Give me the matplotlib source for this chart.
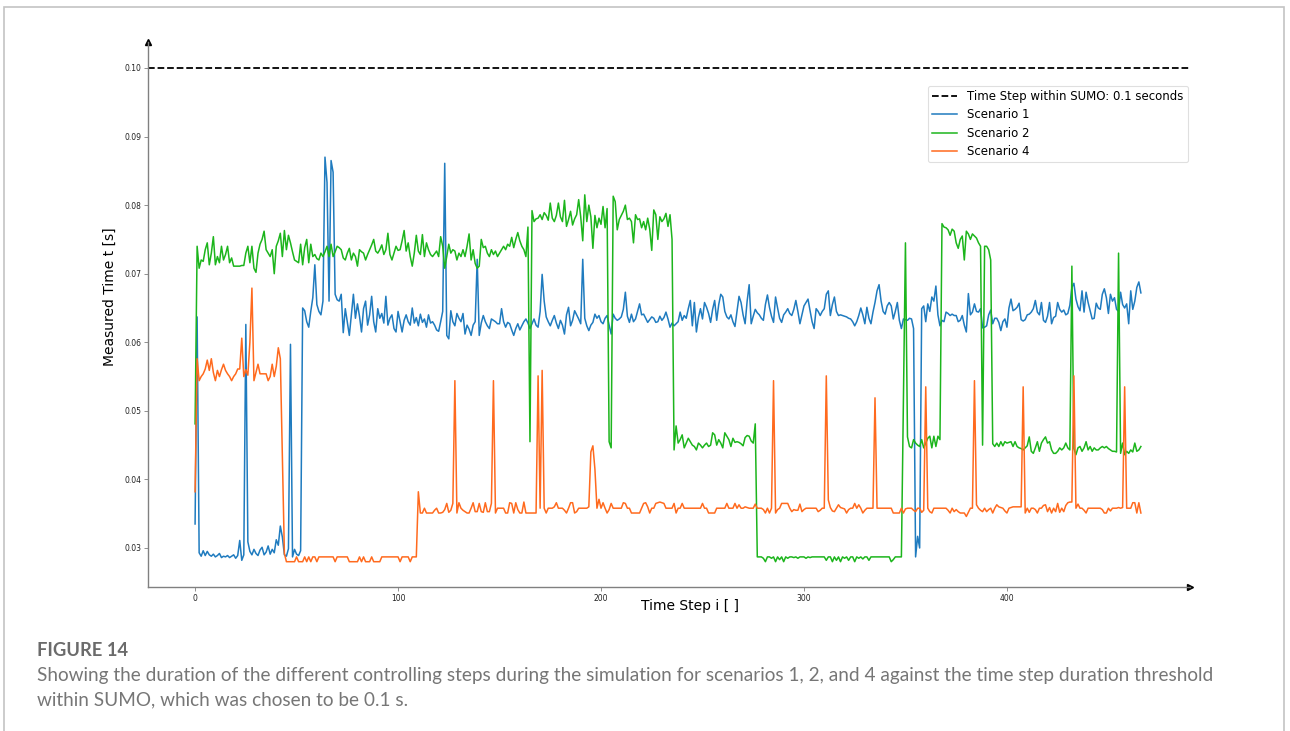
import numpy as np
import matplotlib
matplotlib.use("Agg")
import matplotlib.pyplot as plt
from matplotlib.patches import Rectangle

# measured controlling-step durations in milliseconds, one value per time step
scenario1_ms = [
    33.5, 63.7, 29.3, 28.8, 29.6, 28.9, 29.5, 29.0, 28.8, 29.1,
    28.7, 28.9, 29.2, 28.6, 28.8, 28.7, 28.9, 28.6, 28.8, 29.0,
    28.5, 28.9, 31.1, 28.2, 29.0, 62.6, 30.9, 29.5, 29.0, 29.8,
    29.2, 28.9, 29.7, 30.1, 29.0, 29.4, 30.3, 29.1, 29.8, 29.3,
    31.2, 30.4, 33.2, 31.6, 29.0, 28.8, 29.9, 59.7, 28.7, 29.8,
    29.1, 28.9, 29.6, 65.0, 64.6, 63.0, 62.2, 64.5, 66.5, 71.3,
    65.5, 64.5, 64.0, 66.0, 87.0, 83.3, 66.0, 86.5, 84.8, 67.0,
    66.2, 66.0, 67.0, 61.4, 64.9, 63.0, 61.0, 64.0, 67.0, 63.5,
    65.6, 63.8, 61.5, 64.9, 66.0, 62.5, 64.0, 66.7, 63.0, 61.5,
    64.9, 63.5, 64.2, 62.8, 66.7, 62.5, 63.5, 64.0, 62.0, 61.5,
    64.5, 63.0, 61.5, 63.2, 64.0, 63.0, 62.5, 65.0, 62.8, 63.6,
    62.4, 64.1, 62.9, 63.4, 62.2, 64.0, 62.8, 63.0, 62.5, 61.8,
    61.6, 63.0, 64.5, 86.1, 61.0, 60.5, 64.6, 63.0, 62.4, 64.2,
    63.5, 63.0, 64.2, 61.2, 62.5, 61.9, 61.0, 62.5, 63.0, 72.1,
    61.0, 62.8, 63.9, 63.0, 62.4, 62.0, 63.4, 63.2, 63.0, 62.7,
    62.7, 64.9, 63.0, 62.2, 62.9, 62.7, 61.8, 61.0, 62.0, 62.7,
    61.8, 62.4, 63.0, 63.4, 62.8, 62.0, 62.7, 63.4, 62.5, 62.2,
    64.5, 69.9, 66.0, 63.7, 63.0, 62.4, 63.2, 63.9, 62.8, 62.0,
    63.2, 62.5, 61.2, 64.0, 65.1, 62.4, 63.2, 64.6, 64.0, 63.4,
    62.7, 72.1, 63.5, 62.4, 61.7, 62.5, 62.9, 64.1, 63.5, 63.9,
    63.0, 62.7, 63.5, 63.9, 62.5, 61.2, 64.1, 63.5, 63.2, 63.4,
    63.7, 64.8, 67.3, 63.8, 62.9, 64.1, 63.0, 63.4, 64.5, 65.6,
    64.0, 64.1, 63.5, 62.9, 63.3, 63.7, 63.5, 62.9, 63.0, 63.8,
    63.2, 63.6, 64.4, 63.4, 62.2, 62.8, 62.4, 62.7, 63.0, 64.4,
    63.2, 63.9, 63.5, 64.9, 66.1, 62.4, 65.8, 61.5, 63.6, 64.9,
    63.4, 65.8, 65.1, 64.2, 62.9, 64.8, 66.1, 63.2, 65.5, 67.0,
    66.6, 64.5, 63.7, 63.4, 64.0, 63.0, 62.3, 64.5, 66.7, 65.8,
    64.0, 62.7, 66.0, 68.4, 62.7, 63.8, 64.8, 64.3, 64.0, 63.5,
    63.2, 65.5, 66.9, 65.1, 63.8, 62.9, 66.6, 65.0, 63.5, 62.9,
    64.0, 64.4, 64.9, 64.2, 63.9, 64.8, 66.1, 64.5, 62.7, 64.0,
    65.3, 65.8, 66.3, 64.6, 63.0, 62.0, 64.9, 64.5, 63.9, 64.5,
    64.9, 67.0, 67.5, 63.9, 65.5, 66.6, 64.5, 63.9, 64.0, 63.9,
    63.8, 63.7, 63.5, 63.4, 63.0, 62.4, 63.0, 63.9, 65.0, 64.0,
    62.7, 65.1, 63.5, 62.7, 64.4, 65.8, 67.5, 68.4, 66.0, 64.5,
    64.1, 65.3, 65.8, 65.3, 63.4, 64.5, 65.8, 63.2, 62.0, 63.4,
    63.3, 63.2, 63.5, 63.4, 62.0, 28.7, 31.7, 30.0, 64.9, 65.3,
    63.0, 65.6, 64.5, 66.6, 66.0, 68.2, 64.0, 62.4, 63.2, 63.0,
    64.4, 64.2, 63.9, 64.1, 63.9, 63.9, 63.0, 63.2, 63.9, 62.5,
    61.5, 67.1, 64.0, 64.4, 65.6, 64.5, 64.4, 64.9, 62.1, 62.2,
    62.4, 64.0, 64.7, 62.7, 63.5, 63.5, 62.9, 61.7, 63.0, 63.4,
    62.2, 65.0, 66.3, 64.6, 64.8, 65.1, 65.7, 63.3, 63.1, 63.3,
    64.0, 64.1, 64.4, 64.9, 66.1, 64.4, 64.0, 65.8, 63.2, 62.9,
    63.8, 65.8, 62.7, 63.6, 63.8, 65.8, 64.8, 64.4, 64.7, 64.0,
    64.2, 65.4, 68.0, 68.6, 66.3, 65.2, 64.6, 67.5, 64.4, 67.3,
    65.8, 64.6, 63.4, 63.5, 65.7, 65.0, 64.8, 67.0, 67.8, 66.5,
    64.2, 67.0, 66.0, 66.5, 64.8, 64.5, 67.3, 65.5, 65.0, 65.6,
    62.7, 67.5, 64.8, 66.0, 68.0, 68.8, 67.2,
]

scenario2_ms = [
    48.1, 74.0, 70.8, 72.0, 71.8, 73.5, 74.5, 71.3, 73.0, 75.4,
    71.3, 72.5, 71.6, 74.0, 72.0, 72.8, 74.0, 71.6, 72.3, 71.1,
    71.1, 71.1, 71.1, 71.2, 71.2, 73.0, 74.0, 71.6, 74.0, 70.8,
    70.2, 73.0, 74.3, 75.0, 76.2, 73.5, 73.0, 72.5, 73.5, 70.0,
    74.0, 74.8, 75.9, 72.5, 76.3, 73.5, 75.6, 74.5, 73.2, 72.0,
    71.8, 71.6, 74.3, 71.3, 73.8, 75.0, 71.6, 74.3, 72.5, 72.8,
    72.2, 72.0, 73.0, 72.5, 73.2, 74.0, 72.5, 74.3, 72.5, 73.2,
    74.0, 73.8, 73.5, 72.3, 72.0, 73.0, 73.7, 72.0, 73.0, 72.5,
    71.1, 73.5, 73.2, 73.0, 72.0, 72.8, 73.5, 74.2, 75.0, 73.3,
    73.0, 73.5, 74.2, 72.8, 73.5, 75.9, 72.8, 72.0, 73.0, 74.0,
    73.4, 73.5, 74.8, 76.3, 73.3, 74.5, 72.5, 71.1, 73.0, 75.6,
    73.3, 72.8, 75.7, 72.5, 74.5, 73.5, 72.8, 72.5, 72.9, 73.3,
    72.5, 75.4, 74.0, 70.8, 72.5, 74.3, 73.0, 73.5, 73.3, 72.0,
    73.0, 72.5, 73.5, 72.5, 74.0, 75.8, 72.0, 73.5, 71.5, 70.8,
    71.1, 75.0, 73.8, 74.0, 73.0, 72.5, 73.5, 72.8, 73.3, 72.5,
    73.0, 73.5, 74.0, 73.5, 74.3, 74.0, 75.3, 73.8, 75.0, 76.0,
    74.8, 74.0, 73.5, 72.5, 76.8, 45.5, 79.2, 77.6, 78.0, 78.1,
    78.6, 77.9, 78.9, 78.5, 77.8, 80.3, 78.1, 77.6, 78.5, 80.3,
    78.3, 77.6, 80.7, 76.9, 77.9, 79.1, 77.1, 78.0, 78.6, 80.8,
    78.3, 74.8, 81.5, 77.6, 80.0, 78.3, 73.7, 78.5, 76.7, 78.1,
    77.2, 79.8, 76.7, 79.5, 45.5, 44.6, 81.3, 80.5, 76.4, 77.9,
    78.5, 79.1, 80.0, 77.9, 78.1, 77.6, 74.5, 78.6, 77.9, 78.0,
    76.7, 77.6, 76.4, 78.1, 76.5, 73.4, 79.3, 78.6, 75.0, 78.3,
    77.6, 78.0, 78.8, 76.9, 78.6, 75.0, 44.3, 47.8, 45.3, 45.8,
    46.5, 44.6, 45.3, 46.0, 45.5, 45.0, 44.8, 44.3, 45.3, 45.0,
    44.6, 45.0, 45.3, 44.8, 45.0, 46.8, 46.5, 45.0, 45.8, 45.3,
    44.6, 46.8, 46.3, 45.8, 44.8, 46.0, 45.4, 45.5, 45.4, 45.2,
    44.9, 46.1, 46.4, 46.3, 45.6, 45.3, 48.1, 28.7,
    28.7, 28.7, 28.5, 28.0, 28.7, 28.7, 28.5, 28.7, 28.0, 28.7,
    28.3, 28.7, 28.0, 28.7, 28.5, 28.7, 28.7, 28.6, 28.7, 28.5,
    28.7, 28.7, 28.7, 28.5, 28.7, 28.6, 28.7, 28.7, 28.7, 28.7,
    28.7, 28.7, 28.7, 28.2, 28.7, 28.7, 28.0, 28.7, 28.2, 28.7,
    28.0, 28.7, 28.5, 28.7, 28.2, 28.7, 28.7, 28.0, 28.7, 28.5,
    28.7, 28.4, 28.7, 28.7, 28.2, 28.7, 28.7, 28.7, 28.7, 28.7,
    28.7, 28.7, 28.7, 28.7, 28.7, 28.0, 28.3, 28.7, 28.7, 28.7,
    28.7,
    52.0, 74.5, 46.2, 44.8, 44.6, 45.8, 45.3, 45.0, 44.8, 45.8, 44.6,
    45.3, 46.0, 46.3, 44.6, 46.3, 44.8, 46.3, 45.8, 77.3, 76.8,
    76.7, 76.4, 75.6, 76.5, 76.2, 74.5, 73.7, 75.0, 75.5, 72.0,
    76.2, 75.8, 75.0, 75.8, 75.5, 75.2, 74.5, 74.0, 45.0, 74.0,
    74.0, 73.5, 72.0, 45.2, 44.8, 45.3, 44.8, 45.5, 44.9, 45.5,
    45.3, 45.4, 45.5, 44.8, 45.5, 44.8, 44.6, 44.5, 44.3, 44.6,
    44.9, 46.2, 44.1, 43.8, 44.6, 45.5, 44.1, 45.3, 45.8, 46.2,
    45.3, 45.5, 44.3, 43.8, 43.8, 44.1, 44.6, 44.3, 44.6, 45.3,
    44.6, 44.3, 71.1, 44.5, 43.6, 44.6, 44.8, 44.1, 44.6, 45.5,
    44.3, 44.8, 44.1, 44.6, 44.3, 44.3, 44.6, 44.8, 44.6, 44.8,
    44.5, 44.3, 44.1, 44.1, 44.0, 73.0, 43.8, 45.3, 43.6, 44.1,
    43.8, 44.3, 44.0, 45.3, 44.1, 44.3, 44.8,
]

scenario4_ms = [
    38.2, 57.6, 54.4, 55.0, 55.4, 56.1, 57.4, 55.9, 57.6, 55.6,
    54.4, 55.9, 55.0, 56.0, 56.8, 55.9, 55.4, 55.0, 54.4, 55.0,
    55.4, 56.1, 56.1, 60.6, 55.0, 56.0, 55.2, 60.0, 67.9, 54.4,
    55.6, 56.8, 55.4, 55.4, 55.4, 55.4, 54.4, 55.0, 56.8, 55.0,
    56.5, 59.2, 57.6, 43.3, 29.2, 28.0,
    28.0, 28.0, 28.0, 28.0, 28.7, 28.0, 28.0, 28.0, 28.7, 28.0,
    28.7, 28.0, 28.7, 28.7, 28.0, 28.7, 28.7, 28.7, 28.7, 28.7,
    28.7, 28.7, 28.7, 28.0, 28.7, 28.7, 28.7, 28.7, 28.7, 28.7,
    28.0, 28.0, 28.0, 28.0, 28.0, 28.7, 28.0, 28.7, 28.0, 28.0,
    28.0, 28.7, 28.0, 28.0, 28.0, 28.0, 28.7, 28.7, 28.7, 28.7,
    28.7, 28.7, 28.7, 28.7, 28.7, 28.0, 28.7, 28.7, 28.7, 28.7,
    28.0, 28.7, 28.7, 28.7,
    38.2, 35.1, 35.1, 35.8, 35.1, 35.1, 35.1, 35.1, 35.5, 35.8, 35.1,
    35.1, 35.2, 35.6, 36.5, 35.2, 35.5, 36.5, 54.4, 35.1, 36.6,
    35.8, 35.5, 35.3, 35.1, 35.1, 35.8, 36.6, 35.3, 35.3, 36.5,
    35.3, 35.2, 36.6, 35.3, 35.3, 36.5, 54.4, 35.1, 35.8, 35.8,
    35.8, 35.8, 35.1, 35.1, 36.6, 36.5, 35.1, 36.6, 35.6, 35.1,
    35.1, 36.7, 35.1, 35.1, 35.1, 35.1, 35.1, 35.1, 55.1, 35.8,
    55.9, 35.8, 35.1, 35.8, 35.8, 35.8, 36.0, 36.6, 35.8, 35.8,
    35.8, 35.5, 35.1, 35.8, 36.6, 36.6, 35.1, 35.3, 35.8, 35.8,
    35.8, 35.8, 35.8, 36.0, 44.0, 44.9, 41.5, 35.8, 37.1, 35.8,
    36.6, 35.8, 35.1, 35.6, 36.5, 35.8, 35.8, 35.8, 35.8, 35.8,
    36.6, 36.5, 35.8, 35.8, 35.1, 35.1, 35.1, 35.1, 35.1, 35.8,
    36.5, 36.6, 36.0, 35.1, 35.8, 35.8, 36.5, 36.6, 36.7, 36.6,
    36.5, 35.8, 35.8, 35.8, 35.8, 36.5, 35.1, 35.8, 35.8, 36.5,
    35.8, 35.8, 35.8, 35.8, 35.8, 35.8, 35.8, 35.8, 35.8, 36.5,
    35.8, 35.8, 35.1, 35.1, 35.1, 35.1, 35.8, 35.8, 35.8, 35.8,
    35.8, 36.5, 35.8,
    35.8, 35.8, 36.5, 35.8, 36.3, 35.8, 35.8, 36.0, 35.9, 35.8,
    35.8, 35.8, 36.4, 35.8, 35.8, 35.8, 35.6, 35.1, 35.8, 35.1,
    35.8, 54.4, 35.1, 35.6, 35.8, 36.5, 36.5, 36.5, 36.5, 35.8,
    35.3, 35.6, 35.5, 35.5, 36.4, 35.3, 35.6, 35.8, 35.8, 35.8,
    35.8, 35.8, 35.8, 35.3, 35.5, 35.8, 35.8, 55.1, 37.0, 35.9,
    35.4, 35.3, 35.8, 36.3, 35.9, 35.8, 35.7, 35.1, 35.6, 35.8,
    35.8, 36.5, 35.8, 36.3, 35.8, 35.1, 35.5, 35.8, 35.8, 35.8,
    35.8, 51.9, 35.8, 35.8, 35.8, 35.8, 35.8, 35.8, 35.8, 35.8,
    35.1, 35.1, 35.1, 35.1, 35.8, 35.1, 35.7, 35.8, 35.8, 35.8,
    35.5, 35.3, 35.8, 35.8, 35.2, 35.5, 53.5, 35.8, 35.3, 35.1,
    35.8, 35.8, 35.8, 35.8, 35.8, 35.8, 35.8, 35.5, 35.1, 35.8,
    35.3, 35.6, 35.3, 35.1, 35.1, 35.1, 34.6, 35.2, 35.8, 35.8,
    54.4, 36.3, 35.8, 35.5, 35.3, 35.8, 35.3, 35.6, 35.8, 35.1,
    35.8, 36.3, 36.0, 35.9, 35.8, 35.4, 35.1, 35.8, 35.9, 36.0,
    36.0, 36.0, 36.0, 36.0, 53.5, 35.1, 35.8, 35.2, 35.8, 35.8,
    35.6, 35.1, 35.8, 35.8, 36.2, 36.3, 35.3, 35.9, 35.1, 35.8,
    35.3, 36.5, 35.2, 35.8, 35.3, 36.2, 36.6, 36.7, 36.7, 55.1,
    35.8, 36.4, 35.8, 35.8, 35.5, 35.1, 35.8, 35.8, 35.8, 35.8,
    35.8, 35.8, 35.8, 35.6, 35.1, 35.1, 35.8, 35.4, 35.8, 35.8,
    35.8, 35.9, 35.8, 35.9, 53.5, 35.8, 35.8, 35.8, 36.6, 36.6,
    35.1, 36.6, 35.1,
]

threshold = 0.1
series_labels = ["Scenario 1", "Scenario 2", "Scenario 4"]
series_colors = ["#1f7bbf", "#1cb51c", "#ff6a1e"]
y_ticks = [0.03, 0.04, 0.05, 0.06, 0.07, 0.08, 0.09, 0.10]
x_ticks = [0, 100, 200, 300, 400]

caption_head = "FIGURE 14"
caption_lines = [
    "Showing the duration of the different controlling steps during the simulation for scenarios 1, 2, and 4 against the time step duration threshold",
    "within SUMO, which was chosen to be 0.1 s.",
]

W, H = 1290, 731
fig = plt.figure(figsize=(W / 100, H / 100), dpi=100)
fig.patch.set_facecolor("white")

# light frame round the whole figure box
fig.patches.append(Rectangle((4 / W, -0.05), 1280 / W, 1 - 7 / H + 0.05,
                             transform=fig.transFigure, fill=False,
                             edgecolor="#c4c4c4", lw=1.2))

ax = fig.add_axes([148 / W, (H - 587) / H, (1190 - 148) / W, (587 - 42) / H])
ax.set_xlim(-23.2, 490.2)
ax.set_ylim(0.02431, 0.10379)

ax.axhline(threshold, color="black", ls="--", lw=1.3,
           label="Time Step within SUMO: 0.1 seconds")
for vals, lab, col in zip([scenario1_ms, scenario2_ms, scenario4_ms],
                          series_labels, series_colors):
    y = np.array(vals) / 1000.0
    ax.plot(np.arange(len(y)), y, color=col, lw=1.1, label=lab)

# axis look: only left and bottom, with arrow heads
for side in ["top", "right"]:
    ax.spines[side].set_visible(False)
for side in ["left", "bottom"]:
    ax.spines[side].set_color("#808080")
    ax.spines[side].set_linewidth(1.0)
ax.plot(1, 0, ">", color="black", ms=4, transform=ax.transAxes, clip_on=False)
ax.plot(0, 1, "^", color="black", ms=4, transform=ax.transAxes, clip_on=False)

ax.set_yticks(y_ticks)
ax.set_yticklabels(["%.2f" % v for v in y_ticks])
ax.set_xticks(x_ticks)
ax.tick_params(labelsize=5.5, length=3, width=0.7, color="#909090",
               labelcolor="#222222", pad=2)

leg = ax.legend(loc="upper right", bbox_to_anchor=(1188 / W, 1 - 86 / H),
                bbox_transform=fig.transFigure, borderaxespad=0,
                fontsize=8.5, frameon=True, fancybox=True, borderpad=0.35,
                handlelength=2.15, handletextpad=0.85, labelspacing=0.45)
leg.get_frame().set_edgecolor("#d8d8d8")
leg.get_frame().set_linewidth(0.8)

fig.text(110 / W, 1 - 297 / H, "Measured Time t [s]", rotation=90,
         ha="center", va="center", fontsize=10)
fig.text(690 / W, 1 - 606 / H, "Time Step i [ ]", ha="center", va="center",
         fontsize=10)

fig.text(37 / W, 1 - 651 / H, caption_head, ha="left", va="center",
         fontsize=13.2, fontweight="bold", color="#6b6b6b", family="Lato")
for k, line in enumerate(caption_lines):
    fig.text(37 / W, 1 - (676 + 23.5 * k) / H, line, ha="left", va="center",
             fontsize=13.7, color="#767676", family="Lato")

fig.savefig("out.png", dpi=100)
